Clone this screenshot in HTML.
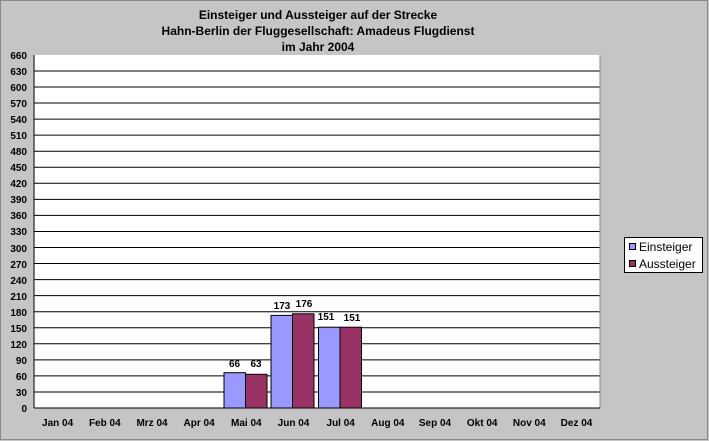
<!DOCTYPE html>
<html><head><meta charset="utf-8"><style>
body{margin:0;width:709px;height:441px;overflow:hidden;background:#c6c4c6}
svg{display:block;font-family:"Liberation Sans",Arial,sans-serif}
</style></head><body>
<svg width="709" height="441" viewBox="0 0 709 441">
<rect x="0.5" y="0.5" width="707" height="439" fill="#c6c4c6" stroke="#888"/>
<g font-size="12" font-weight="bold" text-anchor="middle" fill="#000">
<text x="318" y="19">Einsteiger und Aussteiger auf der Strecke</text>
<text x="318" y="35">Hahn-Berlin der Fluggesellschaft: Amadeus Flugdienst</text>
<text x="318" y="51">im Jahr 2004</text>
</g>
<rect x="34" y="55" width="566" height="353" fill="#fff"/>
<g stroke="#000" stroke-width="1">
<line x1="34" y1="391.95" x2="600" y2="391.95"/><line x1="34" y1="375.9" x2="600" y2="375.9"/><line x1="34" y1="359.85" x2="600" y2="359.85"/><line x1="34" y1="343.8" x2="600" y2="343.8"/><line x1="34" y1="327.75" x2="600" y2="327.75"/><line x1="34" y1="311.7" x2="600" y2="311.7"/><line x1="34" y1="295.65" x2="600" y2="295.65"/><line x1="34" y1="279.6" x2="600" y2="279.6"/><line x1="34" y1="263.55" x2="600" y2="263.55"/><line x1="34" y1="247.5" x2="600" y2="247.5"/><line x1="34" y1="231.45" x2="600" y2="231.45"/><line x1="34" y1="215.4" x2="600" y2="215.4"/><line x1="34" y1="199.35" x2="600" y2="199.35"/><line x1="34" y1="183.3" x2="600" y2="183.3"/><line x1="34" y1="167.25" x2="600" y2="167.25"/><line x1="34" y1="151.2" x2="600" y2="151.2"/><line x1="34" y1="135.15" x2="600" y2="135.15"/><line x1="34" y1="119.1" x2="600" y2="119.1"/><line x1="34" y1="103.05" x2="600" y2="103.05"/><line x1="34" y1="87" x2="600" y2="87"/><line x1="34" y1="70.95" x2="600" y2="70.95"/>
</g>
<line x1="600" y1="55" x2="600" y2="408" stroke="#888"/>
<g stroke="#000">
<rect x="224" y="372.7" width="21.5" height="35.3" fill="#9999ff"/>
<rect x="245.5" y="374.3" width="21.5" height="33.7" fill="#993366"/>
<rect x="271" y="315.4" width="21.5" height="92.6" fill="#9999ff"/>
<rect x="292.5" y="313.8" width="21.5" height="94.2" fill="#993366"/>
<rect x="318.5" y="327.2" width="21.5" height="80.8" fill="#9999ff"/>
<rect x="340" y="327.2" width="21.5" height="80.8" fill="#993366"/>
</g>
<g font-size="10" font-weight="bold" text-anchor="middle">
<text x="234.5" y="367">66</text><text x="256" y="367">63</text>
<text x="282" y="309">173</text><text x="304" y="307">176</text>
<text x="326" y="320">151</text><text x="352" y="321">151</text>
</g>
<line x1="34" y1="55" x2="34" y2="408" stroke="#000"/>
<line x1="34" y1="408" x2="600" y2="408" stroke="#000"/>
<g font-size="10" font-weight="bold" text-anchor="end">
<text x="27" y="412">0</text><text x="27" y="396">30</text><text x="27" y="380">60</text><text x="27" y="364">90</text><text x="27" y="348">120</text><text x="27" y="332">150</text><text x="27" y="316">180</text><text x="27" y="300">210</text><text x="27" y="284">240</text><text x="27" y="268">270</text><text x="27" y="252">300</text><text x="27" y="235">330</text><text x="27" y="219">360</text><text x="27" y="203">390</text><text x="27" y="187">420</text><text x="27" y="171">450</text><text x="27" y="155">480</text><text x="27" y="139">510</text><text x="27" y="123">540</text><text x="27" y="107">570</text><text x="27" y="91">600</text><text x="27" y="75">630</text><text x="27" y="59">660</text>
</g>
<g font-size="10" font-weight="bold" text-anchor="middle">
<text x="57.6" y="426">Jan 04</text><text x="104.8" y="426">Feb 04</text><text x="152" y="426">Mrz 04</text><text x="199.1" y="426">Apr 04</text><text x="246.3" y="426">Mai 04</text><text x="293.5" y="426">Jun 04</text><text x="340.7" y="426">Jul 04</text><text x="387.8" y="426">Aug 04</text><text x="435" y="426">Sep 04</text><text x="482.2" y="426">Okt 04</text><text x="529.3" y="426">Nov 04</text><text x="576.5" y="426">Dez 04</text>
</g>
<rect x="624.5" y="237.5" width="78" height="35" fill="#fff" stroke="#000"/>
<rect x="629.5" y="243.5" width="6" height="6" fill="#9999ff" stroke="#000"/>
<rect x="629.5" y="260.5" width="6" height="6" fill="#993366" stroke="#000"/>
<g font-size="12"><text x="639" y="251">Einsteiger</text><text x="639" y="268">Aussteiger</text></g>
</svg>
</body></html>
